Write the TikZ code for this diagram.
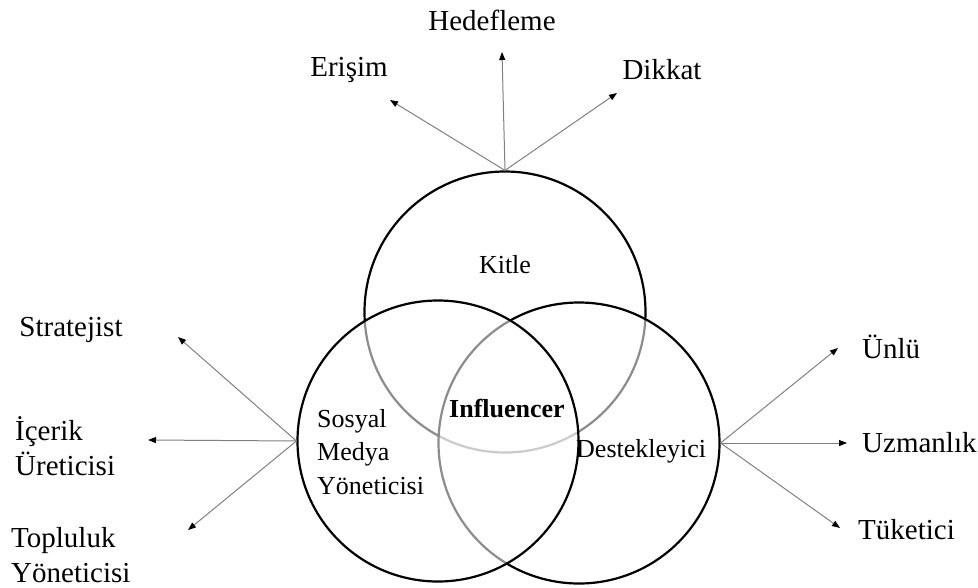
\documentclass[tikz,border=0pt]{standalone}
\usepackage{fontspec}
\setmainfont{Liberation Serif}
\usetikzlibrary{arrows.meta}
\begin{document}
\begin{tikzpicture}[x=1pt,y=-1pt,
    ring/.style={circle, draw=black, line width=2.2pt, minimum size=281pt, inner sep=0pt,
                 fill=white, fill opacity=0.55},
    outer/.style={inner sep=0pt, font=\fontsize{29}{35}\selectfont, align=left},
    inner/.style={inner sep=0pt, font=\fontsize{26}{33.5}\selectfont, align=left},
    link/.style={draw=black!50, line width=1pt, -{Triangle[length=8pt,width=6pt,black]}}]

    \useasboundingbox (0,0) rectangle (978,587);

    % circles
    \node[ring] (kitle) at (505,312) {};
    \node[ring] (destek) at (579,443) {};
    \node[ring] (sosyal) at (438,441) {};

    % texts inside
    \node[inner] (kitletext) at (505,265) {Kitle};
    \node[inner, font=\fontsize{26}{33.5}\selectfont\bfseries] (infl) at (507,408) {Influencer};
    \node[inner, anchor=west] (sosyaltext) at (317,452) {Sosyal\\Medya\\Yöneticisi};
    \node[inner, anchor=west] (destektext) at (576,451) {Destekleyici};

    % top
    \node[outer] (hedef) at (492,20) {Hedefleme};
    \node[outer] (erisim) at (349,70) {Erişim};
    \node[outer] (dikkat) at (662,70) {Dikkat};
    \coordinate (hedefend) at (502,52);
    \coordinate (erisimend) at (390,100);
    \coordinate (dikkatend) at (617,93);
    \draw[link] (kitle.north) -- (hedefend);
    \draw[link] (kitle.north) -- (erisimend);
    \draw[link] (kitle.north) -- (dikkatend);

    % left
    \node[outer] (strat) at (71,330) {Stratejist};
    \node[outer, anchor=west] (icerik) at (15,446) {İçerik\\Üreticisi};
    \node[outer, anchor=west] (toplu) at (11,555) {Topluluk\\Yöneticisi};
    \coordinate (stratend) at (178,337);
    \coordinate (icerikend) at (148,440);
    \coordinate (topluend) at (188,530);
    \draw[link] (sosyal.west) -- (stratend);
    \draw[link] (sosyal.west) -- (icerikend);
    \draw[link] (sosyal.west) -- (topluend);

    % right
    \node[outer, anchor=west] (unlu) at (862,347) {Ünlü};
    \node[outer, anchor=west] (uzman) at (862,443) {Uzmanlık};
    \node[outer, anchor=west] (tuket) at (858,530) {Tüketici};
    \coordinate (unluend) at (838,348);
    \coordinate (uzmanend) at (847,443);
    \coordinate (tuketend) at (840,528);
    \draw[link] (destek.east) -- (unluend);
    \draw[link] (destek.east) -- (uzmanend);
    \draw[link] (destek.east) -- (tuketend);

\end{tikzpicture}
\end{document}
